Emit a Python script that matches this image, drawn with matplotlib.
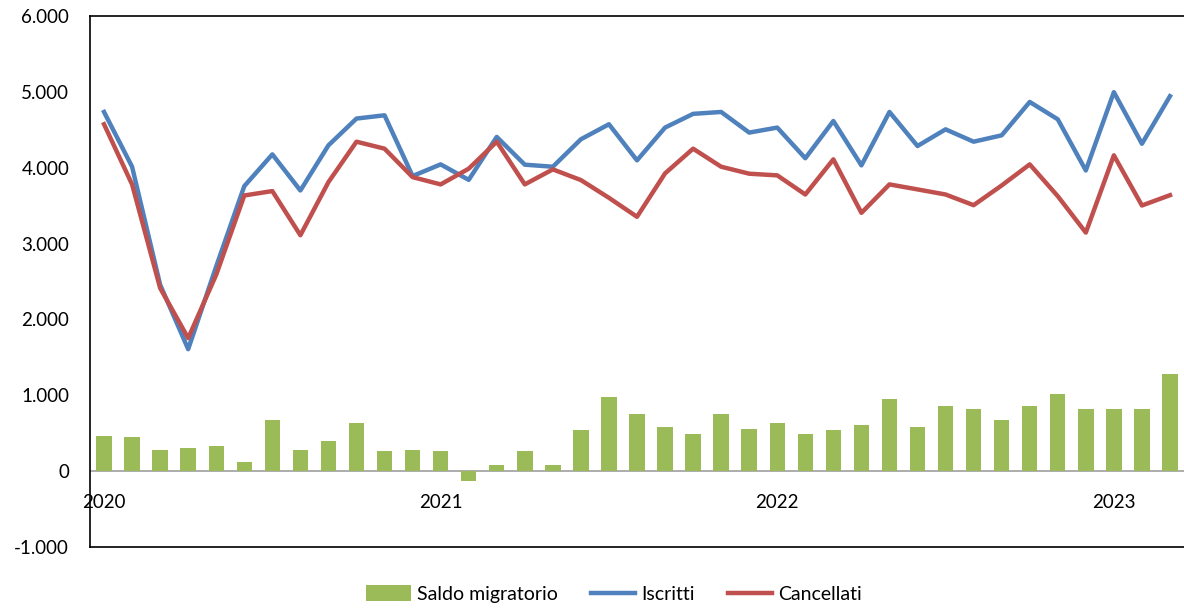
import matplotlib.pyplot as plt
import numpy as np
from matplotlib.ticker import FuncFormatter

plt.rcParams['font.family'] = ['Lato', 'DejaVu Sans']

# monthly data Jan 2020 - Mar 2023
years = ["2020", "2021", "2022", "2023"]
iscritti = [4735, 4013, 2458, 1608, 2700, 3757, 4176, 3700, 4295, 4648,
            4691, 3890, 4044, 3840, 4406, 4040, 4013, 4375, 4573, 4097,
            4529, 4710, 4735, 4463, 4529, 4125, 4616, 4031, 4735, 4286,
            4506, 4343, 4427, 4867, 4638, 3964, 4996, 4316, 4943]
cancellati = [4573, 3780, 2414, 1753, 2590, 3634, 3692, 3110, 3810, 4343,
              4251, 3876, 3780, 3987, 4343, 3780, 3978, 3837, 3603, 3353,
              3925, 4251, 4013, 3921, 3899, 3647, 4110, 3405, 3780, 3714,
              3647, 3506, 3766, 4044, 3625, 3145, 4163, 3502, 3638]
saldo = [468, 445, 282, 304, 326, 119, 679, 282, 396, 630,
         260, 282, 260, -132, 75, 260, 75, 537, 978, 749,
         582, 494, 749, 560, 630, 494, 537, 604, 956, 582,
         864, 815, 679, 864, 1023, 815, 815, 815, 1278]

x = np.arange(len(iscritti))

fig = plt.figure(figsize=(11.84, 6.08), dpi=100)
ax = fig.add_axes([90 / 1184, 61 / 608, 1094 / 1184, 531 / 608])

b = ax.bar(x, saldo, width=0.55, color="#9bbb59", label="Saldo migratorio", zorder=2)
l1, = ax.plot(x, iscritti, color="#4f81bd", lw=3.2, label="Iscritti", zorder=3)
l2, = ax.plot(x, cancellati, color="#c0504d", lw=3.2, label="Cancellati", zorder=3)
ax.axhline(0, color="#a6a6a6", lw=1.3, zorder=1)

ax.set_xlim(-0.5, len(x) - 0.5)
ax.set_ylim(-1000, 6000)
ax.set_yticks(range(-1000, 6001, 1000))
ax.yaxis.set_major_formatter(FuncFormatter(lambda v, p: f"{int(v):,}".replace(",", ".")))
ax.set_xticks([0, 12, 24, 36])
ax.set_xticklabels(years)
ax.tick_params(axis="y", length=0, labelsize=13.5, pad=15)
ax.tick_params(axis="x", length=0, labelsize=13.5, pad=-38)

for s in ["top", "left", "bottom"]:
    ax.spines[s].set_color("black")
    ax.spines[s].set_linewidth(1.2)
ax.spines["right"].set_visible(False)

fig.legend([b, l1, l2], ["Saldo migratorio", "Iscritti", "Cancellati"],
           loc="center", bbox_to_anchor=(614 / 1184, 14 / 608), ncol=3, frameon=False,
           fontsize=14, handlelength=2.3, handleheight=0.9, columnspacing=1.7,
           handletextpad=0.3)

fig.savefig("out.png", dpi=100)
